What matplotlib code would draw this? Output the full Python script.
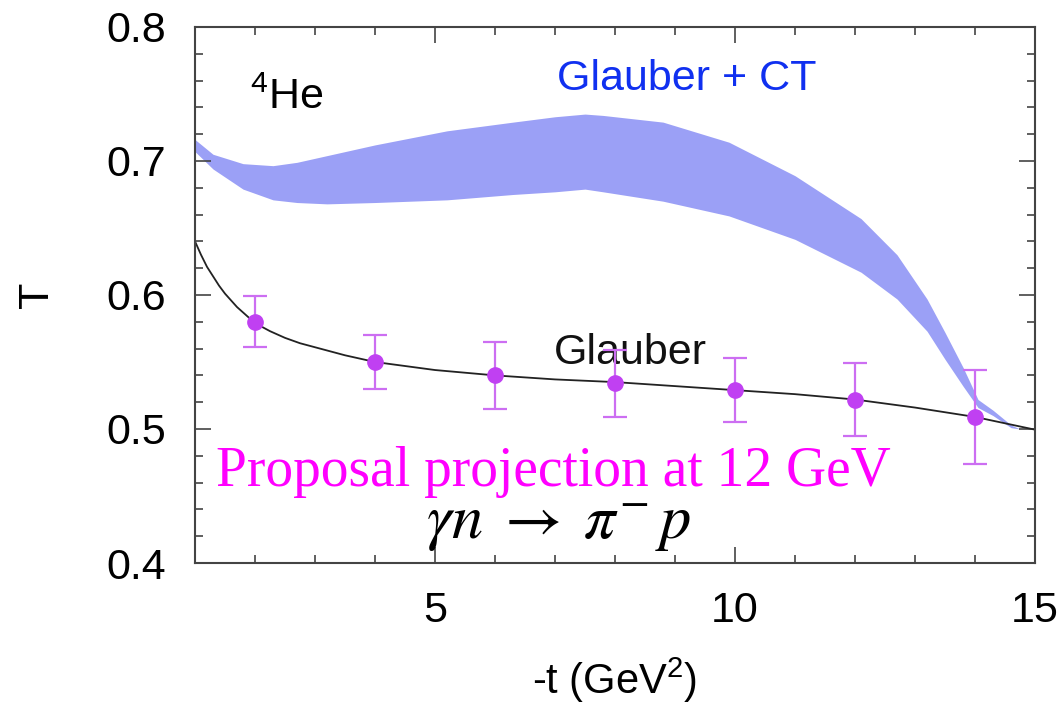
import numpy as np
import matplotlib
matplotlib.use("Agg")
import matplotlib.pyplot as plt
from matplotlib.ticker import MultipleLocator

# Glauber curve (black line)
gl_t = [1.0, 1.1, 1.2, 1.3, 1.4, 1.5, 1.6, 1.7, 1.85, 2.0, 2.25, 2.5, 2.75, 3.0, 3.5, 4.0,
        5.0, 6.0, 7.0, 8.0, 9.0, 10.0, 11.0, 12.0, 13.0, 14.0, 15.0]
gl_T = [0.640, 0.630, 0.621, 0.614, 0.607, 0.601, 0.596, 0.591, 0.585, 0.579, 0.573, 0.568,
        0.564, 0.561, 0.555, 0.550, 0.544, 0.540, 0.537, 0.535, 0.532, 0.529, 0.526, 0.522,
        0.516, 0.509, 0.4995]

# Glauber + CT band
ct_t = [1.0, 1.3, 1.8, 2.3, 2.7, 3.2, 4.0, 5.2, 6.3, 7.0, 7.5, 7.8, 8.8, 9.9, 11.0, 12.1,
        12.7, 13.2, 13.5, 13.8, 14.05, 14.3, 14.6, 14.75]
ct_hi = [0.716, 0.705, 0.698, 0.6965, 0.699, 0.704, 0.712, 0.7225, 0.729, 0.733, 0.735, 0.734,
         0.729, 0.714, 0.689, 0.657, 0.630, 0.597, 0.572, 0.546, 0.522, 0.514, 0.503, 0.500]
ct_lo = [0.707, 0.694, 0.679, 0.671, 0.669, 0.668, 0.669, 0.671, 0.675, 0.677, 0.679, 0.677,
         0.670, 0.659, 0.6415, 0.617, 0.597, 0.573, 0.552, 0.532, 0.516, 0.510, 0.501, 0.500]

# projected data points
proj_t = [2, 4, 6, 8, 10, 12, 14]
proj_T = [0.580, 0.550, 0.540, 0.534, 0.529, 0.522, 0.509]
proj_err = [0.019, 0.020, 0.025, 0.025, 0.024, 0.027, 0.035]

plt.rcParams['font.family'] = ['Liberation Sans', 'DejaVu Sans']
plt.rcParams['mathtext.fontset'] = 'custom'
plt.rcParams['mathtext.rm'] = 'Liberation Sans'
plt.rcParams['mathtext.it'] = 'Liberation Sans:italic'

fig = plt.figure(figsize=(10.61, 7.08), dpi=100)
ax = fig.add_axes([0.1838, 0.2048, 0.9755 - 0.1838, 0.9619 - 0.2048])

ax.fill_between(ct_t, ct_lo, ct_hi, color='#9ba0f6', linewidth=0)
ax.plot(gl_t, gl_T, color='#222222', linewidth=1.3)
ax.errorbar(proj_t, proj_T, yerr=proj_err, fmt='o', color='#c040f2', markersize=11,
            ecolor='#cc6ef2', elinewidth=1.6, capsize=8.5, capthick=1.6, zorder=5)

ax.set_xlim(1.0, 15)
ax.set_ylim(0.4, 0.8)
ax.xaxis.set_major_locator(MultipleLocator(5))
ax.xaxis.set_minor_locator(MultipleLocator(1))
ax.yaxis.set_major_locator(MultipleLocator(0.1))
ax.yaxis.set_minor_locator(MultipleLocator(0.02))
ax.set_yticks([0.4, 0.5, 0.6, 0.7, 0.8])
ax.set_yticklabels(['0.4', '0.5', '0.6', '0.7', '0.8'])
ax.tick_params(which='both', direction='in', top=True, right=True, width=1.2, color='#444444')
ax.tick_params(which='major', length=11.5, labelsize=31, pad=21)
ax.tick_params(which='minor', length=5.8)
ax.tick_params(axis='x', which='major', pad=20)
for s in ax.spines.values():
    s.set_color('#444444')
    s.set_linewidth(1.5)

ax.set_xlabel('-t (GeV$^2$)', fontsize=30, labelpad=18)
ax.set_ylabel('T', fontsize=31, labelpad=35)

ax.text(1.92, 0.747, '$^4$He', fontsize=31, color='black', va='center', ha='left')
ax.text(9.2, 0.761, 'Glauber + CT', fontsize=31, color='#1030f0', ha='center', va='center')
ax.text(8.25, 0.557, 'Glauber', fontsize=31, color='#111111', ha='center', va='center')
ax.text(6.98, 0.468, 'Proposal projection at 12 GeV', fontsize=40, color='#ff00ff',
        ha='center', va='center', family=['Liberation Serif'])
ax.text(7.05, 0.4285, r'$\gamma n \;\rightarrow\; \pi^{-}\, p$', fontsize=45, color='black',
        ha='center', va='center', math_fontfamily='stix')

fig.savefig('out.png', dpi=100)
